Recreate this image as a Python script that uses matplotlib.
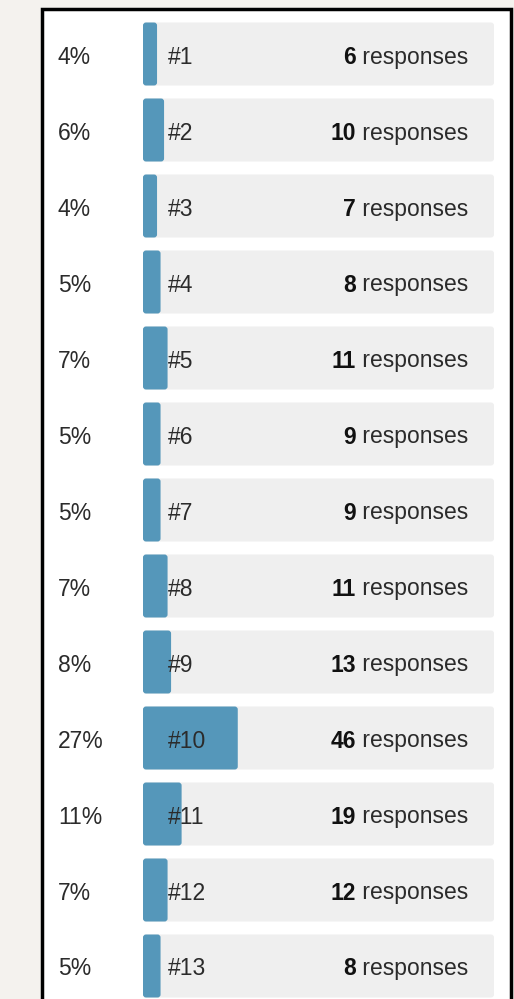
import matplotlib
matplotlib.use("Agg")
import matplotlib.pyplot as plt
from matplotlib.patches import Rectangle, FancyBboxPatch

# 数据
labels = ["#1", "#2", "#3", "#4", "#5", "#6", "#7", "#8", "#9", "#10", "#11", "#12", "#13"]
percents = [4, 6, 4, 5, 7, 5, 5, 7, 8, 27, 11, 7, 5]
counts = [6, 10, 7, 8, 11, 9, 9, 11, 13, 46, 19, 12, 8]

W, H = 514, 999
C_BG = "#f4f2ee"
C_BAR = "#5597ba"
C_TRACK = "#efefef"
C_TXT = "#2b2b2b"
FS = 16.5

plt.rcParams["font.family"] = ["Liberation Sans", "DejaVu Sans"]

fig = plt.figure(figsize=(W / 100, H / 100), dpi=100, facecolor=C_BG)

# 白色面板 + 黑边框
fig.patches.append(Rectangle((42 / W, -0.01), 469 / W, 1 - 9 / H + 0.01,
                             transform=fig.transFigure, facecolor="white",
                             edgecolor="black", lw=2.5, zorder=-10))

# 轨道区域：x 为百分比 0~100，y 为行号
x0, x1 = 143, 494
ax = fig.add_axes([x0 / W, 0, (x1 - x0) / W, 1])
ax.set_zorder(5)
ax.set_xlim(0, 100)
pitch = 76
ax.set_ylim((H - 54) / pitch, -54 / pitch)
ax.axis("off")

bh = 63 / pitch
n = len(labels)
rows = list(range(n))
px = 100 / (x1 - x0)
base = 9.5 / pitch  # 文字基线相对行中心的偏移


def rounded(x, y, w, h, color):
    # 小圆角矩形，圆角半径按像素换算
    p = FancyBboxPatch((x, y), w, h, boxstyle=f"round,pad=0,rounding_size={3 * px}",
                       mutation_aspect=(1 / pitch) / px,
                       facecolor=color, edgecolor="none")
    ax.add_patch(p)


for i in rows:
    rounded(0, i - bh / 2, 100, bh, C_TRACK)
    rounded(0, i - bh / 2, percents[i], bh, C_BAR)

for i in rows:
    ax.text((58 - x0) * px, i + base, f"{percents[i]}%", ha="left", va="baseline",
            fontsize=FS, color=C_TXT, clip_on=False)
    ax.text((168 - x0) * px, i + base, labels[i], ha="left", va="baseline",
            fontsize=FS, color=C_TXT)
    t = ax.text((468 - x0) * px, i + base, " responses", ha="right", va="baseline",
                fontsize=FS, color=C_TXT)
    ax.annotate(str(counts[i]), xy=(0, 0), xycoords=t, ha="right", va="bottom",
                fontsize=FS, fontweight="bold", color="#111111")

fig.savefig("out.png", dpi=100, facecolor=C_BG)
